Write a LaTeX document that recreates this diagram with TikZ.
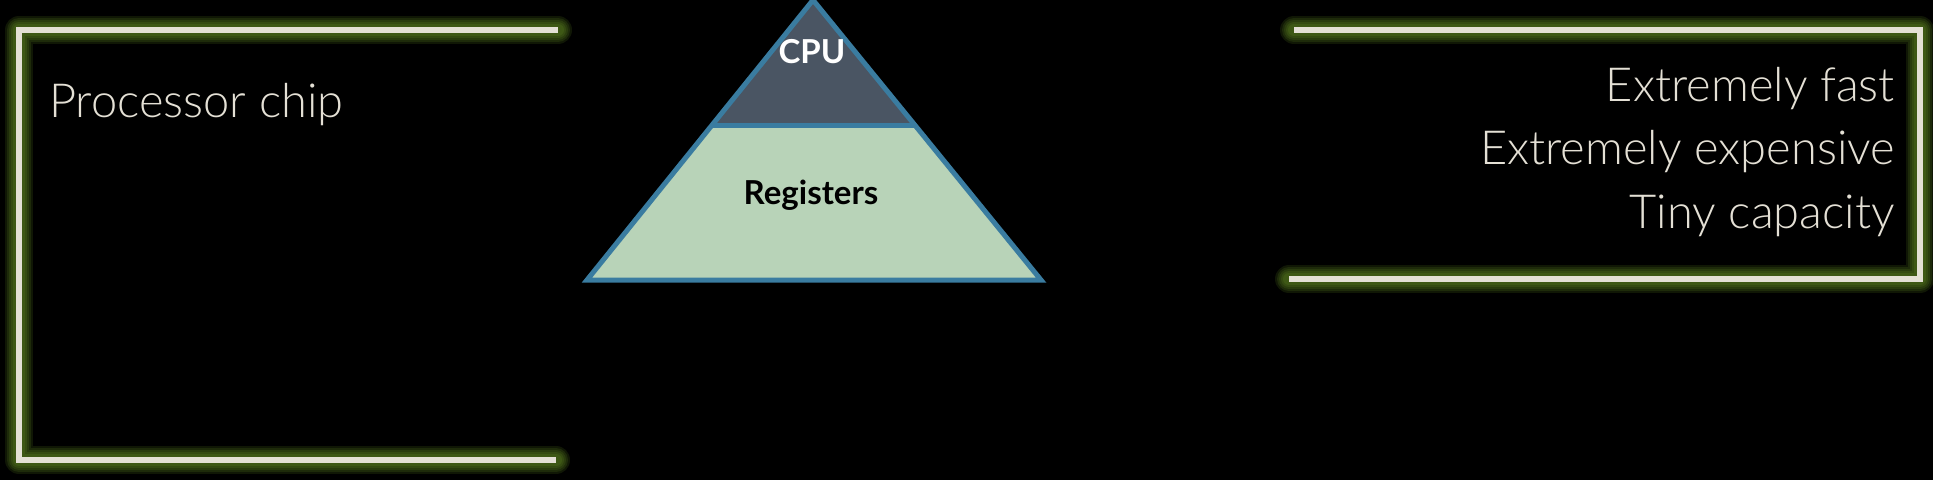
\documentclass[tikz,border=0pt]{standalone}
\usepackage{fontspec}
\setmainfont{Lato}
\newfontfamily\thinfont{Lato Light}

\definecolor{cream}{HTML}{E4E0D5}
\definecolor{glow}{HTML}{86BE30}
\definecolor{edge}{HTML}{3A7CA0}
\definecolor{slate}{HTML}{4A5563}
\definecolor{sage}{HTML}{B8D3B8}

\tikzset{
  rail/.style={draw=cream, line width=6pt},
  halo/.style={draw=glow, line width=#1pt, opacity=0.12, line cap=round, line join=round},
  note/.style={text=cream, font=\thinfont\fontsize{47}{64}\selectfont, inner sep=0pt},
  tier/.style={font=\bfseries\fontsize{33}{38}\selectfont, inner sep=0pt},
}

\begin{document}
\begin{tikzpicture}[x=1pt, y=-1pt]
    \useasboundingbox (0,0) rectangle (1933,480);
    \fill[black] (0,0) rectangle (1933,480);

    % left bracket
    \coordinate (ltop) at (558,30);
    \coordinate (lcorner) at (19,30);
    \coordinate (lbot) at (19,460);
    \coordinate (lend) at (556,460);
    \foreach \w in {28,24,20,16,12} {
        \draw[halo=\w] (ltop) -- (lcorner) -- (lbot) -- (lend);
    }
    \draw[rail] (ltop) -- (lcorner) -- (lbot) -- (lend);
    \node[note, anchor=base west] (chip) at (49,117) {Processor chip};

    % right bracket
    \coordinate (rtop) at (1294,30);
    \coordinate (rcorner) at (1920,30);
    \coordinate (rbot) at (1920,279);
    \coordinate (rend) at (1289,279);
    \foreach \w in {28,24,20,16,12} {
        \draw[halo=\w] (rtop) -- (rcorner) -- (rbot) -- (rend);
    }
    \draw[rail] (rtop) -- (rcorner) -- (rbot) -- (rend);
    \node[note, anchor=base east] (fast) at (1895,101) {Extremely fast};
    \node[note, anchor=base east] (cost) at (1895,164) {Extremely expensive};
    \node[note, anchor=base east] (size) at (1895,228) {Tiny capacity};

    % pyramid
    \coordinate (apex) at (813,0);
    \coordinate (baseL) at (587,280);
    \coordinate (baseR) at (1041,280);
    \coordinate (midL) at (712,125);
    \coordinate (midR) at (914,125);
    \fill[sage] (midL) -- (midR) -- (baseR) -- (baseL) -- cycle;
    \fill[slate] (apex) -- (midR) -- (midL) -- cycle;
    \draw[edge, line width=5pt] (apex) -- (baseR) -- (baseL) -- cycle;
    \draw[edge, line width=5pt] (midL) -- (midR);
    \node[tier, text=white] (cpu) at (812,52) {CPU};
    \node[tier, text=black] (regs) at (811,195) {Registers};
\end{tikzpicture}
\end{document}
